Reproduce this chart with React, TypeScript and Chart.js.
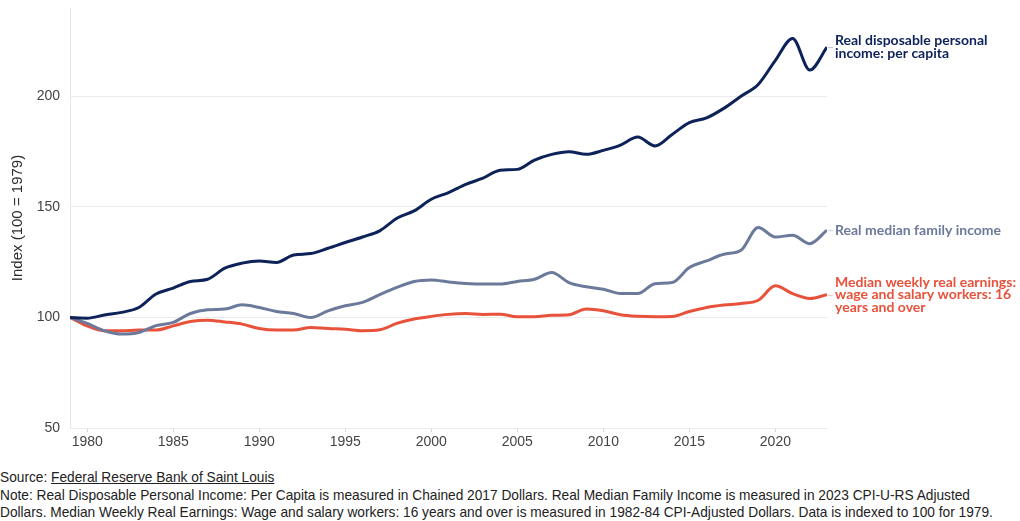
import React, { useEffect, useRef } from "react";
import { Chart, registerables } from "chart.js";

Chart.register(...registerables);

const years = [
  1979, 1980, 1981, 1982, 1983, 1984, 1985, 1986, 1987, 1988, 1989, 1990, 1991, 1992, 1993,
  1994, 1995, 1996, 1997, 1998, 1999, 2000, 2001, 2002, 2003, 2004, 2005, 2006, 2007, 2008,
  2009, 2010, 2011, 2012, 2013, 2014, 2015, 2016, 2017, 2018, 2019, 2020, 2021, 2022, 2023,
];

const disposableIncome = [
  100, 99.7, 101.1, 102.3, 104.5, 110.6, 113.3, 116.3, 117.3, 122.3, 124.6, 125.6, 124.9, 128.3, 128.9,
  131.3, 133.9, 136.4, 139.2, 144.9, 148.2, 153.5, 156.5, 160.2, 163.0, 166.6, 167.0, 171.2, 173.8, 175.0,
  173.8, 175.6, 178.0, 181.6, 177.6, 182.8, 188.1, 190.3, 194.6, 200.1, 205.4, 216.3, 226.2, 211.9, 222.3,
];

const familyIncome = [
  100, 97.3, 94.0, 92.5, 93.2, 96.3, 97.8, 101.8, 103.5, 103.8, 105.7, 104.5, 102.7, 101.8, 100.0,
  103.0, 105.3, 106.8, 110.3, 113.6, 116.3, 117.0, 116.1, 115.4, 115.1, 115.1, 116.3, 117.3, 120.3, 115.8,
  113.9, 112.8, 110.8, 110.8, 115.3, 115.8, 122.6, 125.6, 128.6, 130.4, 140.7, 136.4, 137.2, 133.4, 139.5,
];

const weeklyEarnings = [
  100, 96.2, 94.0, 94.0, 94.3, 94.3, 96.2, 98.2, 98.8, 98.0, 97.0, 95.0, 94.3, 94.3, 95.5,
  95.0, 94.7, 94.0, 94.4, 97.3, 99.3, 100.5, 101.4, 101.8, 101.4, 101.5, 100.3, 100.3, 101.0, 101.2,
  103.8, 103.0, 101.2, 100.5, 100.3, 100.4, 102.7, 104.5, 105.6, 106.3, 107.8, 114.3, 110.8, 108.6, 110.3,
];

const seriesLabels = [
  ["Real disposable personal", "income: per capita"],
  ["Real median family income"],
  ["Median weekly real earnings:", "wage and salary workers: 16", "years and over"],
];

const seriesColors = ["#0c2259", "#6b7a9a", "#e8523b"];
const connectorColors = ["#b7c0d6", "#c9cfdc", "#f4b8ad"];

const xTicks = [1980, 1985, 1990, 1995, 2000, 2005, 2010, 2015, 2020];
const yTicks = [50, 100, 150, 200];

const endLabels = {
  id: "endLabels",
  afterDatasetsDraw(chart: any) {
    const ctx = chart.ctx;
    const xs = chart.scales.x;
    const ys = chart.scales.y;
    ctx.save();
    chart.data.datasets.forEach((ds: any, i: number) => {
      const last = ds.data[ds.data.length - 1];
      const px = xs.getPixelForValue(last.x);
      const py = ys.getPixelForValue(last.y);
      ctx.strokeStyle = connectorColors[i];
      ctx.lineWidth = 1;
      ctx.beginPath();
      ctx.moveTo(px + 1, py + 0.5);
      ctx.lineTo(px + 6, py + 0.5);
      ctx.stroke();
      const lines = seriesLabels[i];
      const lh = 12.4;
      ctx.fillStyle = seriesColors[i];
      ctx.font = "700 14px Lato";
      ctx.textBaseline = "middle";
      ctx.textAlign = "left";
      const startY = py - ((lines.length - 1) * lh) / 2;
      lines.forEach((t: string, k: number) => {
        ctx.fillText(t, px + 8, startY + k * lh);
      });
    });
    ctx.restore();
  },
};

export default function App() {
  const ref = useRef<HTMLCanvasElement>(null);
  const footRef = useRef<HTMLDivElement>(null);
  const line1Ref = useRef<HTMLSpanElement>(null);
  useEffect(() => {
    if (footRef.current && line1Ref.current) {
      const w = line1Ref.current.getBoundingClientRect().width;
      if (w > 0) footRef.current.style.transform = `scaleX(${970 / w})`;
    }
    if (!ref.current) return;
    const mk = (vals: number[]) => years.map((y, i) => ({ x: y, y: vals[i] }));
    const chart = new Chart(ref.current, {
      type: "line",
      data: {
        datasets: [disposableIncome, familyIncome, weeklyEarnings].map((v, i) => ({
          label: seriesLabels[i].join(" "),
          data: mk(v),
          borderColor: seriesColors[i],
          borderWidth: 3,
          pointRadius: 0,
          cubicInterpolationMode: "monotone" as const,
          fill: false,
        })),
      },
      options: {
        animation: false,
        responsive: false,
        maintainAspectRatio: false,
        layout: { padding: { top: 8, right: 193, left: 0, bottom: 0 } },
        plugins: { legend: { display: false }, tooltip: { enabled: false } },
        scales: {
          x: {
            type: "linear",
            min: 1979,
            max: 2023,
            afterBuildTicks: (s: any) => {
              s.ticks = xTicks.map((v) => ({ value: v }));
            },
            afterFit: (s: any) => {
              s.height = 24;
              s.paddingLeft = 0;
              s.paddingRight = 0;
            },
            grid: { drawOnChartArea: false, tickLength: 4, color: "#d9d9d9" },
            border: { display: false },
            ticks: {
              color: "#444",
              font: { family: "Liberation Sans", size: 14 },
              padding: 2,
              maxRotation: 0,
              callback: (v: any) => String(v),
            },
          },
          y: {
            min: 50,
            max: 240,
            afterBuildTicks: (s: any) => {
              s.ticks = yTicks.map((v) => ({ value: v }));
            },
            afterFit: (s: any) => {
              s.width = 70;
              s.paddingTop = 0;
              s.paddingBottom = 0;
            },
            grid: { color: "#ebebeb", tickLength: 0 },
            border: { display: true, color: "#e6e6e6" },
            ticks: {
              color: "#444",
              font: { family: "Liberation Sans", size: 14 },
              padding: 10,
            },
            title: {
              display: true,
              text: "Index (100 = 1979)",
              color: "#2b2b2b",
              font: { family: "Liberation Sans", size: 15 },
              padding: { top: 9, bottom: 0 },
            },
          },
        },
      },
      plugins: [endLabels],
    });
    return () => chart.destroy();
  }, []);

  const footFont: React.CSSProperties = {
    fontFamily: "'Liberation Sans', sans-serif",
    fontSize: 15,
    color: "#222",
    lineHeight: "17.5px",
    whiteSpace: "nowrap",
    transformOrigin: "0 0",
  };

  return (
    <div style={{ position: "absolute", left: 0, top: 0, width: 1020, height: 521, background: "#fff", overflow: "hidden" }}>
      <canvas ref={ref} width={1020} height={452} style={{ position: "absolute", left: 0, top: 0, width: 1020, height: 452 }} />
      <div ref={footRef} style={{ position: "absolute", left: 0, top: 468, ...footFont }}>
        <div>
          Source: <span style={{ textDecoration: "underline" }}>Federal Reserve Bank of Saint Louis</span>
        </div>
        <div>
          <span ref={line1Ref}>
            Note: Real Disposable Personal Income: Per Capita is measured in Chained 2017 Dollars. Real Median Family Income is measured in 2023 CPI-U-RS Adjusted
          </span>
        </div>
        <div>
          Dollars. Median Weekly Real Earnings: Wage and salary workers: 16 years and over is measured in 1982-84 CPI-Adjusted Dollars. Data is indexed to 100 for 1979.
        </div>
      </div>
    </div>
  );
}
